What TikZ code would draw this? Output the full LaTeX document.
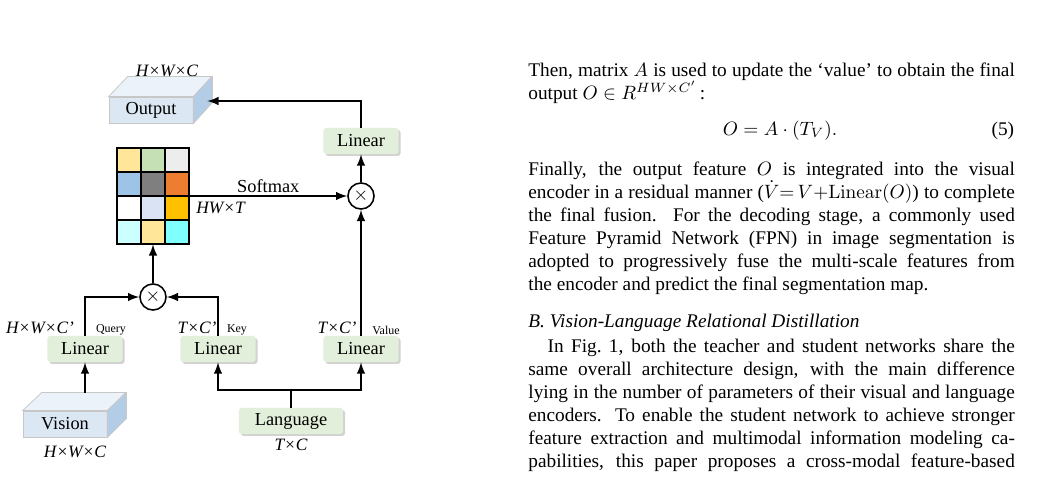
\documentclass[tikz,border=0pt]{standalone}
\usepackage[no-math]{fontspec}
\setmainfont{Liberation Serif}
\usetikzlibrary{shadows,calc}

\definecolor{lingreen}{HTML}{E2EFDA}
\definecolor{cubefront}{HTML}{DCE7F4}
\definecolor{cubetop}{HTML}{ECF2FA}
\definecolor{cubeside}{HTML}{B3CDE7}
\definecolor{cA}{HTML}{FFE699}
\definecolor{cB}{HTML}{C5E0B4}
\definecolor{cC}{HTML}{EDEDED}
\definecolor{cD}{HTML}{9DC3E6}
\definecolor{cE}{HTML}{7F7F7F}
\definecolor{cF}{HTML}{ED7D31}
\definecolor{cG}{HTML}{FFFFFF}
\definecolor{cH}{HTML}{DAE3F3}
\definecolor{cI}{HTML}{FFC000}
\definecolor{cJ}{HTML}{CCFFFF}
\definecolor{cK}{HTML}{80FFFF}

\begin{document}
\begin{tikzpicture}[x=0.518pt,y=-0.518pt,
    linear/.style={fill=lingreen,rounded corners=1.5pt,minimum width=39pt,minimum height=13.5pt,inner sep=0pt,
        font=\fontsize{9.5}{11}\selectfont,drop shadow={shadow xshift=1pt,shadow yshift=-1pt,opacity=0.35}},
    cube/.style={draw=black!22,fill=cubefront,minimum width=43.5pt,minimum height=13.5pt,inner sep=0pt,
        font=\fontsize{9.5}{11}\selectfont},
    mult/.style={circle,draw,line width=0.8pt,fill=white,minimum size=13.5pt,inner sep=0pt},
    dimlab/.style={font=\fontsize{9}{10}\selectfont\itshape,inner sep=0pt},
    tag/.style={font=\fontsize{6.2}{7}\selectfont,inner sep=0pt},
    flow/.style={line width=1pt,-latex},
    body/.style={text width=252pt,align=justify,inner sep=0pt,font=\fontsize{10}{12}\selectfont}
]
\useasboundingbox (0,0) rectangle (1039,487);
\fill[white] (0,0) rectangle (1039,487);

% attention map
\foreach \r/\ca/\cb/\cc in {0/cA/cB/cC, 1/cD/cE/cF, 2/cG/cH/cI, 3/cJ/cA/cK}{
  \foreach \c/\col in {0/\ca, 1/\cb, 2/\cc}
    \filldraw[fill=\col,draw=black,line width=0.6pt] (117+24*\c,148+24*\r) rectangle ++(24,24);
}
\node[minimum width=37.3pt,minimum height=49.7pt,inner sep=0pt] (attn) at (153,196) {};

% output and vision cubes
\node[cube] (output) at (151,110) {Output};
\filldraw[fill=cubetop,draw=black!22] (output.north west) -- ++(19,-20) -- ++(84,0) -- (output.north east) -- cycle;
\filldraw[fill=cubeside,draw=black!22] (output.north east) -- ++(19,-20) -- ++(0,26) -- (output.south east) -- cycle;
\node[cube] (vision) at (65,424) {Vision};
\filldraw[fill=cubetop,draw=black!22] (vision.north west) -- ++(19,-18) -- ++(84,0) -- (vision.north east) -- cycle;
\filldraw[fill=cubeside,draw=black!22] (vision.north east) -- ++(19,-18) -- ++(0,26) -- (vision.south east) -- cycle;
\coordinate (outin) at ($(output.east)+(14,-9)$);
\coordinate (vtop) at ($(vision.north)+(20,-18)$);

% linear layers
\node[linear] (lintop) at (361,141) {Linear};
\node[linear] (linq) at (85,349) {Linear};
\node[linear] (link) at (218,349) {Linear};
\node[linear] (linv) at (361,349) {Linear};
\node[linear,minimum width=54pt] (lang) at (291,421) {Language};

\node[mult] (mulv) at (361,196) {$\times$};
\node[mult] (mulqk) at (153,297) {$\times$};

% labels
\node[dimlab] (outdim) at (167,71) {H×W×C};
\node[dimlab] (visdim) at (75,452) {H×W×C};
\node[dimlab] (langdim) at (291,445) {T×C};
\node[dimlab] (qdim) at (40,328) {H×W×C’};
\node[dimlab] (kdim) at (197,328) {T×C’};
\node[dimlab] (vdim) at (337,328) {T×C’};
\node[tag] (qtag) at (111,330) {Query};
\node[tag] (ktag) at (237,330) {Key};
\node[tag] (vtag) at (386,330) {Value};
\node[dimlab,anchor=west] (attdim) at (196,208) {HW×T};

% connectors
\draw[flow] (attn.east) -- node[above=1pt,font=\fontsize{9.5}{11}\selectfont,inner sep=0pt]{Softmax} (mulv);
\draw[flow] (mulv) -- (lintop);
\draw[flow] (lintop.north) |- (outin);
\draw[flow] (linv) -- (mulv);
\draw[flow] (linq.north) |- (mulqk);
\draw[flow] (link.north) |- (mulqk);
\draw[flow] (mulqk) -- (attn);
\draw[flow] (vtop) -- (linq);
\draw[line width=1pt] (lang.north) -- ++(0,-18) coordinate (split);
\draw[flow] (split) -| (link);
\draw[flow] (split) -| (linv);

% text column
\node[body,anchor=base west] (para1) at (528,76) {Then, matrix $A$ is used to update the ‘value’ to obtain the final\linebreak output $O\in R^{HW\times C'}$\,:};
\node[anchor=base,inner sep=0pt,font=\fontsize{10}{12}\selectfont] (eq) at (780,135) {$O = A\cdot(T_V).$};
\node[anchor=base east,inner sep=0pt,font=\fontsize{10}{12}\selectfont] (eqno) at (1014.5,135) {(5)};
\node[body,anchor=base west] (para2) at (528,175) {Finally, the output feature $O$ is integrated into the visual\linebreak
  encoder in a residual manner ($\dot{V}{=}\,V{+}\mathrm{Linear}(O)$) to complete\linebreak
  the final fusion. For the decoding stage, a commonly used\linebreak
  Feature Pyramid Network (FPN) in image segmentation is\linebreak
  adopted to progressively fuse the multi-scale features from\linebreak
  the encoder and predict the final segmentation map.};
\node[body,anchor=base west] (head) at (528,327) {\textit{B. Vision-Language Relational Distillation}};
\node[body,anchor=base west] (para3) at (528,352) {\parfillskip=0pt\hspace*{10pt}In Fig.~1, both the teacher and student networks share the\linebreak
  same overall architecture design, with the main difference\linebreak
  lying in the number of parameters of their visual and language\linebreak
  encoders. To enable the student network to achieve stronger\linebreak
  feature extraction and multimodal information modeling ca-\linebreak
  pabilities, this paper proposes a cross-modal feature-based\par};
\end{tikzpicture}
\end{document}
